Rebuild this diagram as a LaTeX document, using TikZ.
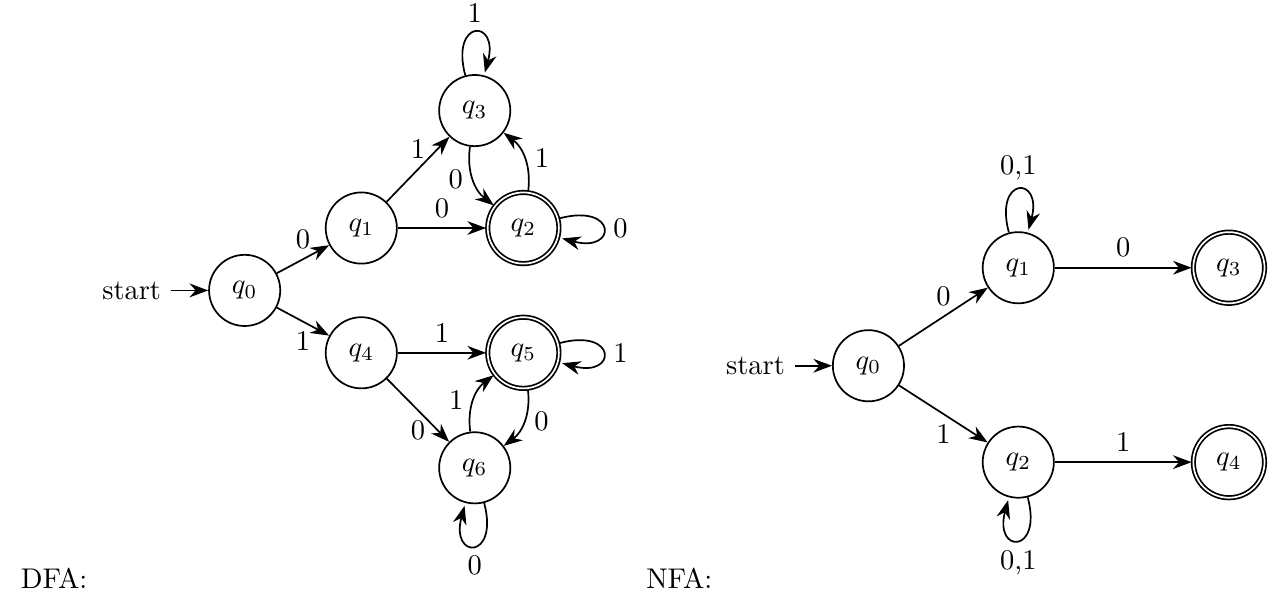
\documentclass[tikz,border=0pt]{standalone}
\usetikzlibrary{automata,arrows.meta,positioning}
\begin{document}
\begin{tikzpicture}[>={Stealth[length=2.3mm,width=1.7mm]},semithick,
  every state/.style={minimum size=2.5em,inner sep=0pt}]
\useasboundingbox (0,0) rectangle (15.85,7.395);
% DFA
\node[state,initial] (d0) at (3.02,3.81) {$q_0$};
\node[state] (d1) at (4.46,4.58) {$q_1$};
\node[state,accepting] (d2) at (6.46,4.58) {$q_2$};
\node[state] (d3) at (5.86,6.03) {$q_3$};
\node[state] (d4) at (4.46,3.04) {$q_4$};
\node[state,accepting] (d5) at (6.46,3.04) {$q_5$};
\node[state] (d6) at (5.86,1.62) {$q_6$};
\path[->] (d0) edge node[above] {0} (d1)
               edge node[below] {1} (d4)
          (d1) edge node[above] {1} (d3)
               edge node[above] {0} (d2)
          (d2) edge[loop right] node[right] {0} ()
               edge[bend right] node[right] {1} (d3)
          (d3) edge[loop above] node[above] {1} ()
               edge[bend right] node[left] {0} (d2)
          (d4) edge node[above] {1} (d5)
               edge node[below] {0} (d6)
          (d5) edge[loop right] node[right] {1} ()
               edge[bend left] node[right] {0} (d6)
          (d6) edge[loop below] node[below] {0} ()
               edge[bend left] node[left] {1} (d5);
\node[anchor=west] (dfa) at (0.13,0.26) {DFA:};
% NFA
\node[state,initial] (n0) at (10.72,2.88) {$q_0$};
\node[state] (n1) at (12.57,4.09) {$q_1$};
\node[state] (n2) at (12.57,1.69) {$q_2$};
\node[state,accepting] (n3) at (15.17,4.09) {$q_3$};
\node[state,accepting] (n4) at (15.17,1.69) {$q_4$};
\path[->] (n0) edge node[above] {0} (n1)
               edge node[below] {1} (n2)
          (n1) edge[loop above] node[above] {0,1} ()
               edge node[above] {0} (n3)
          (n2) edge[loop below] node[below] {0,1} ()
               edge node[above] {1} (n4);
\node[anchor=west] (nfa) at (7.85,0.26) {NFA:};
\end{tikzpicture}
\end{document}
